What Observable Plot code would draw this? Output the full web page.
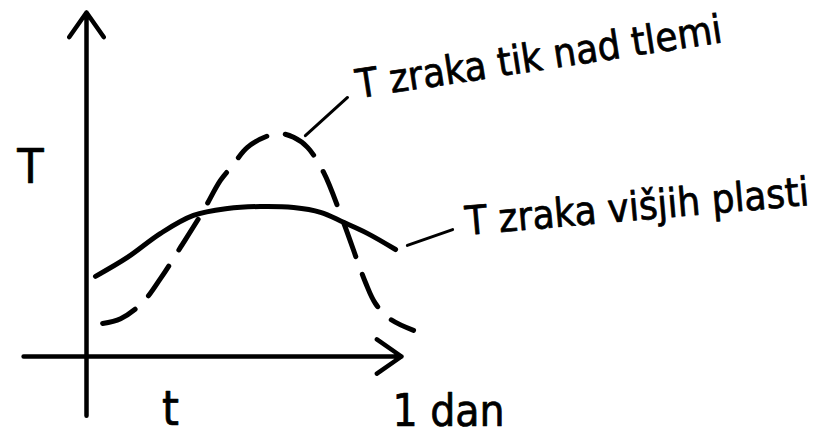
<!DOCTYPE html>
<html>
<head>
<meta charset="utf-8">
<script src="https://cdn.jsdelivr.net/npm/d3@7"></script>
<script src="https://cdn.jsdelivr.net/npm/@observablehq/plot@0.6"></script>
<style>
  html, body { margin: 0; padding: 0; background: #fff; }
</style>
</head>
<body>
<div id="chart"></div>
<script>
// Time as a fraction of one day (0 … 1 dan); temperature in relative units.

// Air just above the ground: large daily swing
const groundTime = [0.052, 0.110, 0.181, 0.239, 0.303, 0.377, 0.432, 0.471, 0.519, 0.587, 0.626, 0.668, 0.713, 0.765, 0.829, 0.900, 0.932, 0.981, 1.055];
const groundTemp = [0.096, 0.110, 0.157, 0.227, 0.317, 0.424, 0.512, 0.555, 0.608, 0.642, 0.648, 0.637, 0.608, 0.535, 0.390, 0.215, 0.154, 0.108, 0.076];

// Air of the higher layers: damped daily swing
const upperTime = [0.029, 0.132, 0.239, 0.345, 0.455, 0.561, 0.668, 0.755, 0.829, 0.906, 0.997];
const upperTemp = [0.233, 0.288, 0.358, 0.410, 0.430, 0.436, 0.433, 0.419, 0.390, 0.358, 0.311];

// Axis arrows (time axis, temperature axis)
const axisX1 = [-0.203, 0];
const axisY1 = [0, -0.172];
const axisX2 = [1.016, 0];
const axisY2 = [0, 1];

// Axis titles
const axisText = ["T", "t"];
const axisTextX = [-0.181, 0.271];
const axisTextY = [0.503, -0.198];
const dayText = "1 dan";
const dayX = 0.987;
const dayY = -0.203;

// Curve labels with their leader lines
const curveLabels = ["T zraka tik nad tlemi", "T zraka višjih plasti"];
const labelX = [0.877, 1.226];
const labelY = [0.751, 0.353];
const leaderX1 = [0.706, 1.035];
const leaderY1 = [0.642, 0.323];
const leaderX2 = [0.842, 1.181];
const leaderY2 = [0.753, 0.369];

const ground = groundTime.map((t, i) => ({t, T: groundTemp[i]}));
const upper = upperTime.map((t, i) => ({t, T: upperTemp[i]}));
const axes = axisX1.map((x1, i) => ({x1, y1: axisY1[i], x2: axisX2[i], y2: axisY2[i]}));
const leaders = leaderX1.map((x1, i) => ({x1, y1: leaderY1[i], x2: leaderX2[i], y2: leaderY2[i]}));
const titles = axisText.map((s, i) => ({s, x: axisTextX[i], y: axisTextY[i]}));

const font = "'DejaVu Sans Condensed', 'DejaVu Sans', sans-serif";
const ink = {fill: "#000", stroke: "#000", strokeWidth: 0.7, fontFamily: font};

const chart = Plot.plot({
  width: 815,
  height: 436,
  marginTop: 0, marginRight: 0, marginBottom: 0, marginLeft: 0,
  style: {background: "#fff", color: "#000", fontFamily: font},
  x: {domain: [0, 1], range: [86, 396], axis: null},
  y: {domain: [0, 1], range: [356, 12], axis: null},
  marks: [
    Plot.arrow(axes, {
      x1: "x1", y1: "y1", x2: "x2", y2: "y2",
      stroke: "#000", strokeWidth: 4.5, headLength: 10, headAngle: 70,
      strokeLinecap: "round", strokeLinejoin: "round"
    }),
    Plot.line(upper, {
      x: "t", y: "T", curve: "catmull-rom",
      stroke: "#000", strokeWidth: 5, strokeLinecap: "round"
    }),
    Plot.line(ground, {
      x: "t", y: "T", curve: "catmull-rom",
      stroke: "#000", strokeWidth: 5, strokeLinecap: "round",
      strokeDasharray: "36,19"
    }),
    Plot.link(leaders, {
      x1: "x1", y1: "y1", x2: "x2", y2: "y2",
      stroke: "#000", strokeWidth: 3, strokeLinecap: "round"
    }),
    Plot.text(titles, {
      x: "x", y: "y", text: "s", ...ink,
      fontSize: 48, textAnchor: "middle", lineAnchor: "bottom"
    }),
    Plot.text([dayText], {
      x: () => dayX, y: () => dayY, text: d => d, ...ink,
      fontSize: 44, textAnchor: "start", lineAnchor: "bottom"
    }),
    Plot.text([curveLabels[0]], {
      x: () => labelX[0], y: () => labelY[0], text: d => d, ...ink,
      fontSize: 40, textAnchor: "start", lineAnchor: "bottom", rotate: -8.7
    }),
    Plot.text([curveLabels[1]], {
      x: () => labelX[1], y: () => labelY[1], text: d => d, ...ink,
      fontSize: 40, textAnchor: "start", lineAnchor: "bottom", rotate: -5
    })
  ]
});

document.getElementById("chart").appendChild(chart);
</script>
</body>
</html>
